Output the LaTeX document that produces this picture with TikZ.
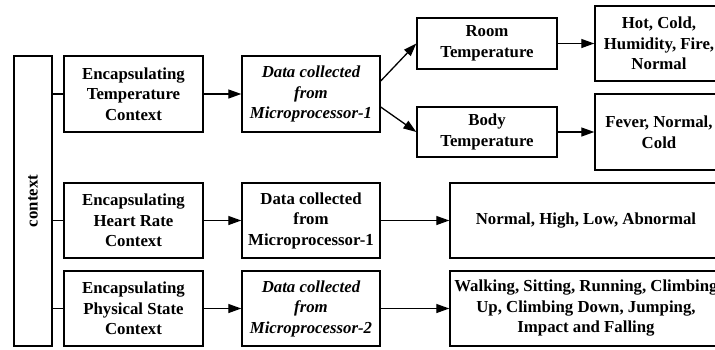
\documentclass[tikz,border=0pt]{standalone}
\usepackage{fontspec}
\setmainfont{Liberation Serif}
\usetikzlibrary{arrows.meta,calc}
\tikzset{
  box/.style={draw, line width=1.4pt, inner sep=1pt, align=center,
    font=\fontsize{16.8}{20.5}\selectfont\bfseries},
  ibox/.style={box, font=\fontsize{16.8}{20.5}\selectfont\bfseries\itshape},
  conn/.style={line width=1.3pt},
  arr/.style={conn, -{Triangle[length=13pt,width=9pt]}, shorten >=0pt}
}
\begin{document}
\begin{tikzpicture}[x=1pt,y=-1pt]
\useasboundingbox (0,0) rectangle (715,349);
% context
\node[box, minimum width=38pt, minimum height=290pt] (ctx) at (33,201) {};
\node[font=\fontsize{16.8}{20.5}\selectfont\bfseries, rotate=90] (ctxt) at (ctx.center) {context};
% encapsulating boxes
\node[box, minimum width=139pt, minimum height=76pt] (e1) at (133.5,94) {Encapsulating\\Temperature\\Context};
\node[box, minimum width=139pt, minimum height=75pt] (e2) at (133.5,220.5) {Encapsulating\\Heart Rate\\Context};
\node[box, minimum width=139pt, minimum height=75pt] (e3) at (133.5,308.5) {Encapsulating\\Physical State\\Context};
% data boxes
\node[ibox, minimum width=138pt, minimum height=76pt] (d1) at (311,94) {Data collected\\from\\Microprocessor-1};
\node[box, minimum width=138pt, minimum height=75pt] (d2) at (311,220.5) {Data collected\\from\\Microprocessor-1};
\node[ibox, minimum width=138pt, minimum height=75pt] (d3) at (311,308.5) {Data collected\\from\\Microprocessor-2};
% temperature sub boxes
\node[box, minimum width=140pt, minimum height=51pt] (room) at (487,43.5) {Room\\Temperature};
\node[box, minimum width=140pt, minimum height=50pt] (body) at (487,132) {Body\\Temperature};
% results
\node[box, minimum width=128pt, minimum height=75pt] (r1) at (659,43.5) {Hot, Cold,\\Humidity, Fire,\\Normal};
\node[box, minimum width=128pt, minimum height=76pt] (r2) at (659,132) {Fever, Normal,\\Cold};
\node[box, minimum width=272pt, minimum height=75pt] (r3) at (586,220.5) {Normal, High, Low, Abnormal};
\node[box, minimum width=272pt, minimum height=75pt] (r4) at (586,308.5) {Walking, Sitting, Running, Climbing\\Up, Climbing Down, Jumping,\\Impact and Falling};
% connectors
\draw[conn] (ctx.east |- e1.west) -- (e1.west);
\draw[conn] (ctx.east |- e2.west) -- (e2.west);
\draw[conn] (ctx.east |- e3.west) -- (e3.west);
\draw[arr] (e1.east) -- (d1.west);
\draw[arr] (e2.east) -- (d2.west);
\draw[arr] (e3.east) -- (d3.west);
\draw[arr] ($(d1.east)+(0,-13)$) -- (room.west);
\draw[arr] ($(d1.east)+(0,13)$) -- (body.west);
\draw[arr] (room.east) -- (r1.west);
\draw[arr] (body.east) -- (r2.west);
\draw[arr] (d2.east) -- (r3.west);
\draw[arr] (d3.east) -- (r4.west);
\end{tikzpicture}
\end{document}
